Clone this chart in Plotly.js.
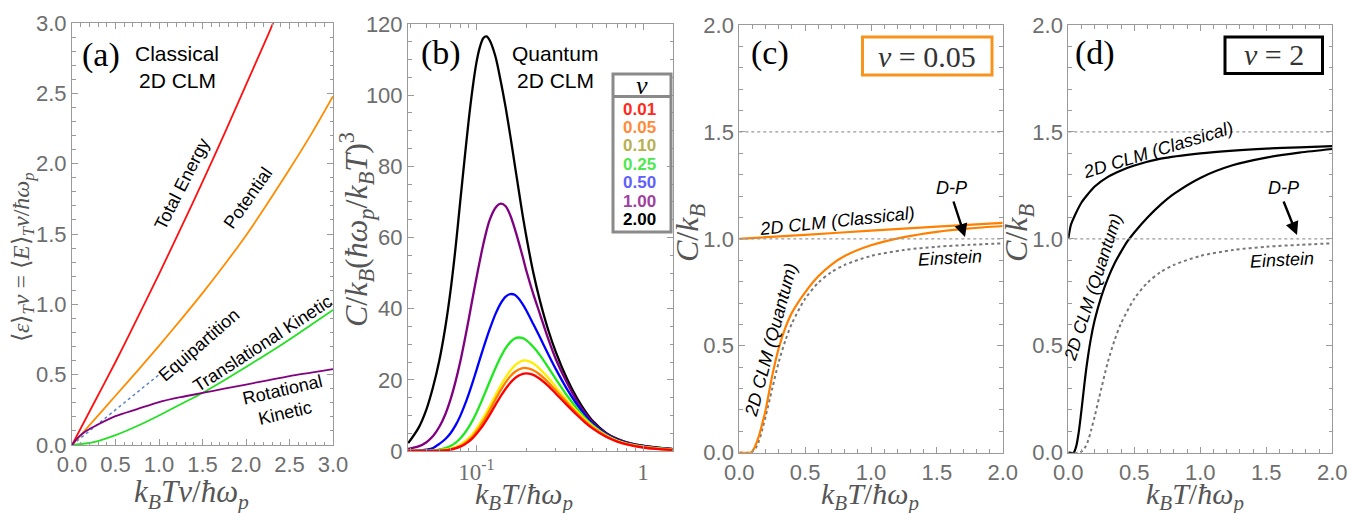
<!DOCTYPE html>
<html><head><meta charset="utf-8">
<script src="https://cdn.plot.ly/plotly-3.0.1.min.js"></script>
<style>html,body{margin:0;padding:0;background:#fff}</style>
</head><body><div id="chart" style="width:1350px;height:513px"></div>
<script>
// ---------- Panel (a): classical 2D CLM energies ----------
const aTotalX = [0,0.25,0.5,0.75,1.0,1.25,1.5,1.75,2.0,2.25,2.4];
const aTotalY = [0,0.295,0.59,0.9,1.215,1.54,1.87,2.21,2.56,2.91,3.13];
const aX = [0,0.25,0.5,0.75,1.0,1.25,1.5,1.75,2.0,2.25,2.5,2.75,3.0];
const aPotential = [0,0.175,0.35,0.525,0.705,0.89,1.08,1.28,1.49,1.72,1.96,2.21,2.48];
const aTrans = [0,0.02,0.07,0.135,0.21,0.29,0.37,0.46,0.555,0.65,0.75,0.855,0.96];
const aRotX = [0,0.05,0.1,0.15,0.25,0.5,0.75,1.0,1.25,1.5,1.75,2.0,2.25,2.5,2.75,3.0];
const aRot = [0,0.04,0.07,0.095,0.13,0.205,0.255,0.305,0.34,0.37,0.4,0.43,0.46,0.49,0.515,0.54];
const aEquiX = [0,1.0];
const aEquiY = [0,0.5];

// ---------- Panel (b): quantum 2D CLM, C/kB (hw/kT)^3 ----------
const bT = [0.039,0.045,0.05,0.055,0.06,0.065,0.07,0.075,0.08,0.085,0.09,0.095,0.1,0.105,0.11,0.115,0.12,0.13,0.14,0.15,0.16,0.17,0.18,0.19,0.2,0.22,0.24,0.27,0.3,0.35,0.4,0.45,0.5,0.6,0.7,0.8,1.0,1.2,1.5];
const bNu = ['0.01','0.05','0.10','0.25','0.50','1.00','2.00'];
const b001 = [0,0.001,0.008,0.03,0.085,0.2,0.42,0.75,1.22,1.85,2.65,3.6,4.75,6.0,7.3,8.7,10.1,12.9,15.4,17.5,19.2,20.4,21.2,21.7,21.8,21.4,20.3,18.3,16.1,12.9,10.2,8.0,6.3,4.0,2.65,1.84,0.98,0.6,0.31];
const b005 = [0,0.003,0.012,0.04,0.11,0.26,0.5,0.88,1.42,2.15,3.05,4.1,5.4,6.8,8.3,9.8,11.4,14.4,17.1,19.3,21,22.2,22.9,23.3,23.3,22.7,21.5,19.3,17,13.6,10.7,8.4,6.6,4.2,2.75,1.92,1.06,0.65,0.34];
const b010 = [0,0.005,0.02,0.06,0.16,0.35,0.65,1.1,1.75,2.6,3.6,4.8,6.2,7.7,9.3,10.9,12.5,15.6,18.4,20.7,22.6,24,24.9,25.4,25.4,24.6,23.1,20.6,18,14.2,11.2,8.8,6.9,4.35,2.85,2.0,1.12,0.7,0.37];
const b025 = [0,0.02,0.06,0.17,0.4,0.8,1.4,2.3,3.5,5,6.7,8.6,10.7,12.9,15.1,17.3,19.4,23.2,26.4,28.9,30.6,31.6,31.9,31.7,31.1,29.2,27,23.5,20.2,15.6,12.1,9.3,7.2,4.5,2.95,2.1,1.22,0.78,0.43];
const b050 = [0.05,0.15,0.4,0.85,2.0,3.3,5.0,7.2,9.8,12.8,16,19.3,22.6,25.8,28.8,31.6,34.1,38.4,41.5,43.4,44.1,43.9,42.8,41.2,39.4,35.6,32.1,27.2,23,17.4,13.2,10,7.6,4.7,3.1,2.25,1.33,0.88,0.49];
const b100 = [0.6,1.3,2.4,4.2,6.8,10.2,14.5,19.5,25,31,37,43,48.5,53.5,58,61.8,64.8,68.3,69.5,68.8,66.2,62.5,58.5,54.5,50.5,44,38.7,31.5,25.8,19.2,14.2,10.6,8.0,4.9,3.25,2.35,1.42,0.95,0.53];
const b200 = [2.2,6.5,11.5,18,25.5,34.5,45,57,70,82,93,102,109,113.5,116,116.5,115.5,111,104,96.5,88.5,80.5,73,66,60,50,42.5,34,27.8,20.3,15,11.2,8.4,5.1,3.4,2.45,1.5,1.0,0.56];

// ---------- Panel (c): nu = 0.05 ----------
const cClassX = [0,0.5,1.0,1.5,2.0];
const cClassY = [1.0,1.019,1.038,1.057,1.075];
const cQuantX = [0,0.08,0.1,0.12,0.15,0.18,0.2,0.25,0.3,0.35,0.4,0.5,0.6,0.7,0.8,1.0,1.25,1.5,1.75,2.0];
const cQuantY = [0,0,0.007,0.03,0.08,0.15,0.2,0.36,0.49,0.585,0.655,0.75,0.825,0.88,0.92,0.97,1.008,1.033,1.049,1.06];
const einX = [0,0.08,0.1,0.125,0.15,0.175,0.2,0.25,0.3,0.35,0.4,0.5,0.6,0.7,0.8,1.0,1.25,1.5,1.75,2.0];
const einY = [0,0,0.005,0.022,0.056,0.11,0.17,0.30,0.425,0.525,0.605,0.72,0.795,0.845,0.878,0.92,0.948,0.963,0.972,0.979];

// ---------- Panel (d): nu = 2 ----------
const dClassX = [0,0.02,0.05,0.1,0.15,0.2,0.3,0.4,0.5,0.7,1.0,1.25,1.5,1.75,2.0];
const dClassY = [1.0,1.066,1.11,1.17,1.21,1.245,1.29,1.32,1.343,1.375,1.4,1.413,1.422,1.428,1.434];
const dQuantX = [0,0.04,0.06,0.08,0.1,0.12,0.14,0.17,0.2,0.25,0.3,0.35,0.4,0.45,0.5,0.6,0.7,0.8,1.0,1.25,1.5,1.75,2.0];
const dQuantY = [0,0,0.03,0.1,0.2,0.31,0.41,0.53,0.62,0.73,0.815,0.885,0.94,0.99,1.03,1.1,1.16,1.21,1.285,1.345,1.38,1.403,1.42];

// ---------- helpers ----------
const W = 1350, H = 513;
const PX = p => p / W, PY = p => 1 - p / H;
const SANS = 'Liberation Sans, Arial, Helvetica, sans-serif';
const SERIF = 'Liberation Serif, Times New Roman, serif';

function axis(extra, minor) {
  return Object.assign({
    showline: true, mirror: 'allticks', linecolor: '#9a9a9a', linewidth: 1,
    ticks: 'inside', ticklen: 6, tickwidth: 1, tickcolor: '#9a9a9a',
    showgrid: false, zeroline: false,
    tickfont: {family: SANS, size: 22, color: '#6e6e6e'},
    minor: Object.assign({ticks: 'inside', ticklen: 3.5, tickwidth: 1, tickcolor: '#9a9a9a', showgrid: false}, minor || {})
  }, extra);
}

function line(x, y, xa, ya, color, width, dash) {
  return {x: x, y: y, xaxis: xa, yaxis: ya, type: 'scatter', mode: 'lines',
    line: {color: color, width: width, dash: dash || 'solid', shape: 'spline', smoothing: 0.8},
    hoverinfo: 'skip', showlegend: false};
}

const traces = [
  line(aEquiX, aEquiY, 'x', 'y', '#5b84c8', 1.5, 'dot'),
  line(aTotalX, aTotalY, 'x', 'y', '#ff1010', 1.8),
  line(aX, aPotential, 'x', 'y', '#ff8c00', 1.8),
  line(aX, aTrans, 'x', 'y', '#22e022', 1.8),
  line(aRotX, aRot, 'x', 'y', '#800080', 1.8),

  line(bT, b200, 'x2', 'y2', '#000000', 2.3),
  line(bT, b100, 'x2', 'y2', '#800080', 2.3),
  line(bT, b050, 'x2', 'y2', '#0000ff', 2.3),
  line(bT, b025, 'x2', 'y2', '#1ee81e', 2.3),
  line(bT, b010, 'x2', 'y2', '#ffee00', 2.3),
  line(bT, b005, 'x2', 'y2', '#ff8000', 2.3),
  line(bT, b001, 'x2', 'y2', '#ff0000', 2.3),

  line(einX, einY, 'x3', 'y3', '#777777', 2, 'dot'),
  line(cClassX, cClassY, 'x3', 'y3', '#ff8000', 2.2),
  line(cQuantX, cQuantY, 'x3', 'y3', '#ff8000', 2.2),

  line(einX, einY, 'x4', 'y4', '#777777', 2, 'dot'),
  line(dClassX, dClassY, 'x4', 'y4', '#000000', 2.2),
  line(dQuantX, dQuantY, 'x4', 'y4', '#000000', 2.2)
];

function ann(text, x, y, o) {
  o = o || {};
  return {xref: 'paper', yref: 'paper', x: PX(x), y: PY(y), text: text, showarrow: false,
    xanchor: 'center', yanchor: 'middle', textangle: o.angle || 0,
    font: {family: o.family || SANS, size: o.size || 18, color: o.color || '#000'}};
}
function arrow(hx, hy, tx, ty) {
  return {xref: 'paper', yref: 'paper', x: PX(hx), y: PY(hy), ax: tx - hx, ay: ty - hy,
    axref: 'pixel', ayref: 'pixel', text: '', showarrow: true, arrowhead: 2, arrowsize: 1.1,
    arrowwidth: 2.4, arrowcolor: '#000'};
}

const legendColors = ['#ff2a1a', '#ff8c3a', '#b8b050', '#4ee84e', '#6060ff', '#a040a0', '#000000'];
const legendY = [109.3, 127.3, 145.7, 164.3, 182.7, 201, 219.3];

const T = '#555';
const annotations = [
  // panel labels
  ann('(a)', 101, 55, {family: SERIF, size: 34}),
  ann('Classical', 177, 53, {size: 21}),
  ann('2D CLM', 177, 80, {size: 21}),
  ann('(b)', 441, 53, {family: SERIF, size: 34}),
  ann('Quantum', 555, 53, {size: 21}),
  ann('2D CLM', 555, 80, {size: 21}),
  ann('(c)', 770, 53, {family: SERIF, size: 34}),
  ann('(d)', 1095, 53, {family: SERIF, size: 34}),
  // (a) curve labels
  ann('Total Energy', 182, 184, {angle: -63}),
  ann('Potential', 248, 198, {angle: -55}),
  ann('Equipartition', 199, 345, {angle: -41}),
  ann('Translational Kinetic', 262, 344, {angle: -33}),
  ann('Rotational', 282, 390, {angle: -13}),
  ann('Kinetic', 285, 413, {angle: -13}),
  // (b) legend
  ann('<i>ν</i>', 642, 85, {family: SERIF, size: 26}),
  // (c) labels
  ann('<i>ν</i> = 0.05', 927, 56, {family: SERIF, size: 30, color: '#333'}),
  ann('<i>2D CLM (Classical)</i>', 837, 221, {angle: -6}),
  ann('<i>2D CLM (Quantum)</i>', 771, 340, {angle: -75}),
  ann('<i>D-P</i>', 952, 188),
  ann('<i>Einstein</i>', 950, 258, {angle: -3}),
  arrow(965, 237, 953, 200),
  // (d) labels
  ann('<i>ν</i> = 2', 1274, 55, {family: SERIF, size: 30, color: '#333'}),
  ann('<i>2D CLM (Classical)</i>', 1158, 150, {angle: -17}),
  ann('<i>2D CLM (Quantum)</i>', 1093, 287, {angle: -72, size: 17.5}),
  ann('<i>D-P</i>', 1283, 188),
  ann('<i>Einstein</i>', 1282, 260, {angle: -3}),
  arrow(1297, 235, 1283, 200),
  // axis titles
  ann('⟨<i>ε</i>⟩<sub><i>T</i></sub><i>ν</i> = ⟨<i>E</i>⟩<sub><i>T</i></sub><i>ν</i>/<i>ħω</i><sub><i>p</i></sub>', 23, 257, {family: SERIF, size: 24, color: T, angle: -90}),
  ann('<i>k</i><sub><i>B</i></sub><i>Tν</i>/<i>ħω</i><sub><i>p</i></sub>', 191, 494, {family: SERIF, size: 31, color: T}),
  ann('<i>C</i>/<i>k</i><sub><i>B</i></sub>(<i>ħω</i><sub><i>p</i></sub>/<i>k</i><sub><i>B</i></sub><i>T</i>)<sup>3</sup>', 356, 230, {family: SERIF, size: 32, color: T, angle: -90}),
  ann('<i>k</i><sub><i>B</i></sub><i>T</i>/<i>ħω</i><sub><i>p</i></sub>', 524, 496, {family: SERIF, size: 30, color: T}),
  ann('<i>C</i>/<i>k</i><sub><i>B</i></sub>', 689, 233, {family: SERIF, size: 32, color: T, angle: -90}),
  ann('<i>k</i><sub><i>B</i></sub><i>T</i>/<i>ħω</i><sub><i>p</i></sub>', 870, 496, {family: SERIF, size: 30, color: T}),
  ann('<i>C</i>/<i>k</i><sub><i>B</i></sub>', 1018, 233, {family: SERIF, size: 32, color: T, angle: -90}),
  ann('<i>k</i><sub><i>B</i></sub><i>T</i>/<i>ħω</i><sub><i>p</i></sub>', 1195, 496, {family: SERIF, size: 30, color: T})
];
bNu.forEach((v, i) => annotations.push(ann('<b>' + v + '</b>', 639, legendY[i], {size: 17, color: legendColors[i]})));

const shapes = [
  {type: 'rect', xref: 'paper', yref: 'paper', x0: PX(613), x1: PX(671), y0: PY(232), y1: PY(74), line: {color: '#8a8a8a', width: 3}},
  {type: 'line', xref: 'paper', yref: 'paper', x0: PX(613), x1: PX(671), y0: PY(96.5), y1: PY(96.5), line: {color: '#8a8a8a', width: 3}},
  {type: 'rect', xref: 'paper', yref: 'paper', x0: PX(862.5), x1: PX(992), y0: PY(75), y1: PY(37), line: {color: '#f7941d', width: 3}},
  {type: 'rect', xref: 'paper', yref: 'paper', x0: PX(1225), x1: PX(1322.5), y0: PY(73.5), y1: PY(37), line: {color: '#000', width: 3}},
  {type: 'line', xref: 'x3', yref: 'y3', x0: 0, x1: 2, y0: 1, y1: 1, line: {color: '#999', width: 1.2, dash: 'dot'}},
  {type: 'line', xref: 'x3', yref: 'y3', x0: 0, x1: 2, y0: 1.5, y1: 1.5, line: {color: '#999', width: 1.2, dash: 'dot'}},
  {type: 'line', xref: 'x4', yref: 'y4', x0: 0, x1: 2, y0: 1, y1: 1, line: {color: '#999', width: 1.2, dash: 'dot'}},
  {type: 'line', xref: 'x4', yref: 'y4', x0: 0, x1: 2, y0: 1.5, y1: 1.5, line: {color: '#999', width: 1.2, dash: 'dot'}}
];

const layout = {
  width: W, height: H, margin: {l: 0, r: 0, t: 0, b: 0},
  paper_bgcolor: '#fff', plot_bgcolor: '#fff', showlegend: false,
  xaxis: axis({domain: [PX(72), PX(333)], range: [0, 3], dtick: 0.5, tickformat: '.1f', anchor: 'y'}, {dtick: 0.1}),
  yaxis: axis({domain: [PY(445), PY(23)], range: [0, 3], dtick: 0.5, tickformat: '.1f', anchor: 'x'}, {dtick: 0.1}),
  xaxis2: axis({type: 'log', domain: [PX(408), PX(673)], range: [-1.41, 0.18], tickmode: 'array',
    tickvals: [0.1, 1], ticktext: ['10<sup>-1</sup>', '1'], anchor: 'y2',
    tickfont: {family: SERIF, size: 23, color: '#6e6e6e'}},
    {tickmode: 'array', tickvals: [0.04,0.05,0.06,0.07,0.08,0.09,0.2,0.3,0.4,0.5,0.6,0.7,0.8,0.9]}),
  yaxis2: axis({domain: [PY(451), PY(24)], range: [0, 120], dtick: 20, anchor: 'x2'}, {dtick: 5}),
  xaxis3: axis({domain: [PX(739.3), PX(1002.7)], range: [0, 2], dtick: 0.5, tickformat: '.1f', anchor: 'y3'}, {dtick: 0.1}),
  yaxis3: axis({domain: [PY(452.7), PY(25)], range: [0, 2], dtick: 0.5, tickformat: '.1f', anchor: 'x3'}, {dtick: 0.1}),
  xaxis4: axis({domain: [PX(1068.3), PX(1332.3)], range: [0, 2], dtick: 0.5, tickformat: '.1f', anchor: 'y4'}, {dtick: 0.1}),
  yaxis4: axis({domain: [PY(452.7), PY(25)], range: [0, 2], dtick: 0.5, tickformat: '.1f', anchor: 'x4'}, {dtick: 0.1}),
  annotations: annotations,
  shapes: shapes
};

Plotly.newPlot('chart', traces, layout, {staticPlot: true, displayModeBar: false});
</script>
</body></html>
